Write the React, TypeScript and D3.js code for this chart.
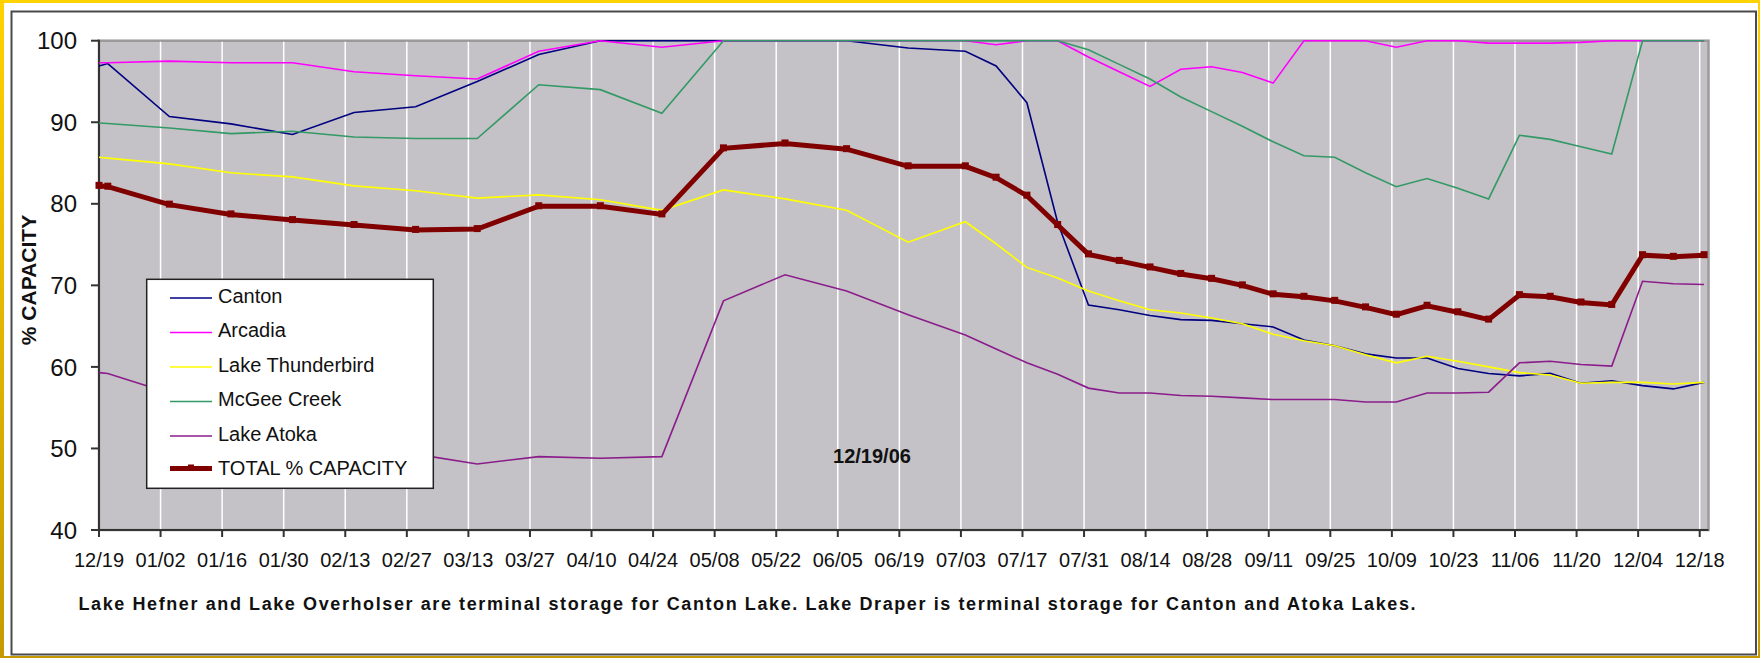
import React from 'react';
import * as d3 from 'd3';

// reading dates (12/19/05 .. 12/19/06)
const dates = [
  '12/19/05', '12/21/05', '01/04/06', '01/18/06', '02/01/06', '02/15/06', '03/01/06', '03/15/06',
  '03/29/06', '04/12/06', '04/26/06', '05/10/06', '05/24/06', '06/07/06', '06/21/06', '07/04/06',
  '07/11/06', '07/18/06', '07/25/06', '08/01/06', '08/08/06', '08/15/06', '08/22/06', '08/29/06',
  '09/05/06', '09/12/06', '09/19/06', '09/26/06', '10/03/06', '10/10/06', '10/17/06', '10/24/06',
  '10/31/06', '11/07/06', '11/14/06', '11/21/06', '11/28/06', '12/05/06', '12/12/06', '12/19/06',
];

const canton = [
  96.9, 97.2, 90.7, 89.8, 88.5, 91.2, 91.9, 95.0, 98.3, 100, 100, 100, 100, 100, 99.1, 98.7,
  96.9, 92.4, 77.7, 67.6, 67.0, 66.3, 65.8, 65.7, 65.3, 64.9, 63.3, 62.6, 61.6, 61.1, 61.1, 59.8,
  59.2, 58.9, 59.2, 58.0, 58.3, 57.7, 57.3, 58.1,
];
const arcadia = [
  97.3, 97.3, 97.5, 97.3, 97.3, 96.2, 95.7, 95.3, 98.7, 100, 99.2, 100, 100, 100, 100, 100,
  99.5, 100, 100, 98.0, 96.2, 94.4, 96.5, 96.8, 96.1, 94.8, 100, 100, 100, 99.2, 100, 100,
  99.7, 99.7, 99.7, 99.8, 100, 100, 100, 100,
];
const thunderbird = [
  85.7, 85.6, 84.9, 83.8, 83.3, 82.2, 81.6, 80.7, 81.1, 80.5, 79.2, 81.7, 80.6, 79.2, 75.3, 77.8,
  75.1, 72.2, 70.9, 69.3, 68.1, 67.0, 66.6, 66.0, 65.3, 64.0, 63.2, 62.6, 61.5, 60.5, 61.3, 60.7,
  60.0, 59.3, 59.0, 58.0, 58.1, 58.1, 57.9, 58.1,
];
const mcgee = [
  89.9, 89.85, 89.3, 88.6, 88.9, 88.2, 88.0, 88.0, 94.6, 94.0, 91.1, 100, 100, 100, 100, 100,
  100, 100, 100, 98.9, 97.1, 95.3, 93.1, 91.3, 89.5, 87.6, 85.9, 85.7, 83.8, 82.1, 83.1, 81.9,
  80.6, 88.4, 87.9, 87.0, 86.1, 100, 100, 100,
];
const atoka = [
  59.3, 59.2, 56.8, 54.3, 52.0, 50.4, 49.3, 48.1, 49.0, 48.8, 49.0, 68.1, 71.3, 69.3, 66.4, 63.9,
  62.2, 60.5, 59.1, 57.4, 56.8, 56.8, 56.5, 56.4, 56.2, 56.0, 56.0, 56.0, 55.7, 55.7, 56.8, 56.8,
  56.9, 60.5, 60.7, 60.3, 60.1, 70.5, 70.2, 70.1,
];
const total = [
  82.2, 82.1, 79.9, 78.7, 78.0, 77.4, 76.8, 76.9, 79.7, 79.7, 78.7, 86.8, 87.4, 86.7, 84.6, 84.6,
  83.2, 81.0, 77.4, 73.8, 73.0, 72.2, 71.4, 70.8, 70.0, 68.9, 68.6, 68.1, 67.3, 66.4, 67.5, 66.7,
  65.8, 68.8, 68.6, 67.9, 67.6, 73.7, 73.5, 73.7,
];

const tickDates = [
  '12/19/05', '01/02/06', '01/16/06', '01/30/06', '02/13/06', '02/27/06', '03/13/06', '03/27/06',
  '04/10/06', '04/24/06', '05/08/06', '05/22/06', '06/05/06', '06/19/06', '07/03/06', '07/17/06',
  '07/31/06', '08/14/06', '08/28/06', '09/11/06', '09/25/06', '10/09/06', '10/23/06', '11/06/06',
  '11/20/06', '12/04/06', '12/18/06',
];
const yTicks = [40, 50, 60, 70, 80, 90, 100];

const seriesNames = ['Canton', 'Arcadia', 'Lake Thunderbird', 'McGee Creek', 'Lake Atoka', 'TOTAL % CAPACITY'];
const seriesColors = ['#000080', '#FF00FF', '#FFFF00', '#339966', '#8B1C8B', '#800000'];

const font = '"Liberation Sans", Arial, sans-serif';

const App = () => {
  const parse = d3.utcParse('%m/%d/%y');
  const fmt = d3.utcFormat('%m/%d');
  const xDates = dates.map((d) => parse(d) as Date);

  const left = 99;
  const right = 1708.5;
  const top = 40.7;
  const bottom = 530;

  const x = d3
    .scaleUtc()
    .domain([parse('12/19/05') as Date, parse('12/20/06') as Date])
    .range([left, right]);
  const y = d3.scaleLinear().domain([40, 100]).range([bottom, top]);

  const line = d3
    .line<number>()
    .x((_, i) => x(xDates[i]))
    .y((d) => y(d));

  const series = [canton, arcadia, thunderbird, mcgee, atoka, total];
  const ticks = tickDates.map((d) => parse(d) as Date);

  // legend box
  const lgX = 146.7;
  const lgY = 279.3;
  const lgW = 286.6;
  const lgH = 209;

  return (
    <svg
      width={1760}
      height={658}
      style={{ position: 'absolute', left: 0, top: 0, display: 'block' }}
      fontFamily={font}
    >
      <defs>
        <linearGradient id="gold" x1="0" y1="0" x2="0" y2="1">
          <stop offset="0" stopColor="#FFD200" />
          <stop offset="1" stopColor="#C49A00" />
        </linearGradient>
      </defs>
      <rect x={0} y={0} width={1760} height={658} fill="url(#gold)" />
      <rect x={4} y={3} width={1754} height={653} fill="#fff" />
      <rect x={11.5} y={11.5} width={1744.5} height={643} fill="none" stroke="#4a4a4a" strokeWidth={2} />

      {/* plot area */}
      <rect x={left} y={top} width={right - left} height={bottom - top} fill="#C4C2C6" stroke="#9a9a9a" strokeWidth={2.5} />

      {ticks.map((t, i) => (
        <line key={'g' + i} x1={x(t)} x2={x(t)} y1={top + 1} y2={bottom} stroke="#fff" strokeWidth={1.5} />
      ))}

      {/* axes */}
      <line x1={left} x2={left} y1={top - 1} y2={bottom} stroke="#333" strokeWidth={2} />
      <line x1={left} x2={right} y1={bottom} y2={bottom} stroke="#333" strokeWidth={2} />
      {yTicks.map((v) => (
        <g key={'y' + v}>
          <line x1={left - 8} x2={left} y1={y(v)} y2={y(v)} stroke="#333" strokeWidth={2} />
          <text x={77} y={y(v)} dy="0.36em" textAnchor="end" fontSize={24} fill="#111">
            {v}
          </text>
        </g>
      ))}
      {ticks.map((t, i) => (
        <g key={'x' + i}>
          <line x1={x(t)} x2={x(t)} y1={bottom} y2={bottom + 7} stroke="#333" strokeWidth={2} />
          <text x={x(t)} y={566.5} textAnchor="middle" fontSize={20} fill="#111">
            {fmt(t)}
          </text>
        </g>
      ))}

      <text
        transform={`translate(36, 280) rotate(-90)`}
        textAnchor="middle"
        fontSize={21}
        fontWeight="bold"
        fill="#111"
      >
        % CAPACITY
      </text>

      {/* series */}
      {series.map((s, i) => (
        <path
          key={'s' + i}
          d={line(s) || ''}
          fill="none"
          stroke={seriesColors[i]}
          strokeWidth={i === 5 ? 5 : 1.6}
          strokeLinejoin="miter"
        />
      ))}
      {total.map((v, i) => (
        <rect key={'m' + i} x={x(xDates[i]) - 3.5} y={y(v) - 4} width={7} height={7} fill="#800000" />
      ))}

      <text x={872} y={463} textAnchor="middle" fontSize={20} fontWeight="bold" fill="#111">
        12/19/06
      </text>

      {/* legend */}
      <rect x={lgX} y={lgY} width={lgW} height={lgH} fill="#fff" stroke="#222" strokeWidth={1.5} />
      {seriesNames.map((name, i) => {
        const base = 302.5 + i * 34.5;
        const ly = base - (i === 5 ? 6.5 : 4.5);
        return (
          <g key={'l' + i}>
            <line x1={170} x2={212} y1={ly} y2={ly} stroke={seriesColors[i]} strokeWidth={i === 5 ? 5 : 1.6} />
            {i === 5 && <rect x={188} y={ly - 4} width={6} height={5} fill="#800000" />}
            <text x={218} y={base} fontSize={20} fill="#111">
              {name}
            </text>
          </g>
        );
      })}

      <text x={78.5} y={610} fontSize={18} fontWeight="bold" fill="#111" textLength={1337} lengthAdjust="spacing">
        Lake Hefner and Lake Overholser are terminal storage for Canton Lake. Lake Draper is terminal storage for Canton and Atoka Lakes.
      </text>
    </svg>
  );
};

export default App;
